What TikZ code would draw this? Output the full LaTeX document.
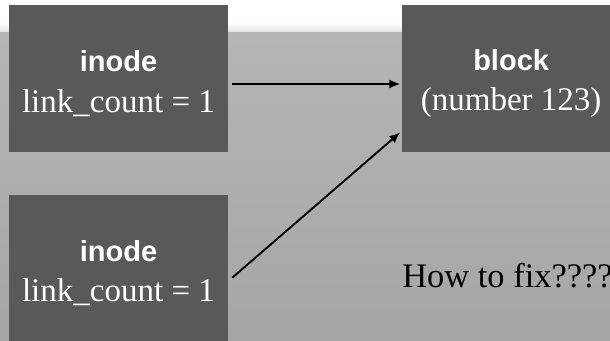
\documentclass[tikz,border=0pt]{standalone}
\usepackage{fontspec}
\setmainfont{Liberation Serif}
\setsansfont{Liberation Sans}
\usetikzlibrary{arrows.meta,positioning}

% bold sans title over a serif line, pushed down a little
\newcommand{\boxlabel}[2]{\rule{0pt}{17.8pt}{\sffamily\bfseries\fontsize{16.5}{20}\selectfont #1}\\#2}

\begin{document}
\begin{tikzpicture}[
        x=0.02cm, y=-0.02cm,
        node distance=0.84cm and 3.46cm,
        box/.style={fill=black!65, text=white, align=center, inner sep=0pt,
            minimum width=4.38cm, minimum height=2.94cm,
            font=\fontsize{18.8}{22.8}\selectfont},
        note/.style={text=black, inner sep=0pt, font=\fontsize{19.6}{23}\selectfont},
        link/.style={-{Latex[length=0.22cm, width=0.18cm]}, line width=1.1pt, black}
    ]

    % Background
    \clip (0,0) rectangle (610,341);
    \fill[white] (0,0) rectangle (610,22);
    \shade[top color=white, bottom color=black!12] (0,22) rectangle (610,33);
    \shade[top color=black!29, bottom color=black!35] (0,33) rectangle (610,341);

    % Nodes
    \node[box] (inode1) at (118.5,78.5) {\boxlabel{inode}{link\_count = 1}};
    \node[box, right=of inode1] (block) {\boxlabel{block}{(number 123)}};
    \node[box, below=of inode1] (inode2) {\boxlabel{inode}{link\_count = 1}};

    \node[note, anchor=base west] (fix) at (402,288) {How to fix????};

    % Edges
    \draw[link] ([shift={(4,5.5)}]inode1.east) -- ([shift={(-1,5.5)}]block.west);
    \draw[link] ([shift={(4,9.5)}]inode2.east) -- ([shift={(-1,-20)}]block.south west);

\end{tikzpicture}
\end{document}
